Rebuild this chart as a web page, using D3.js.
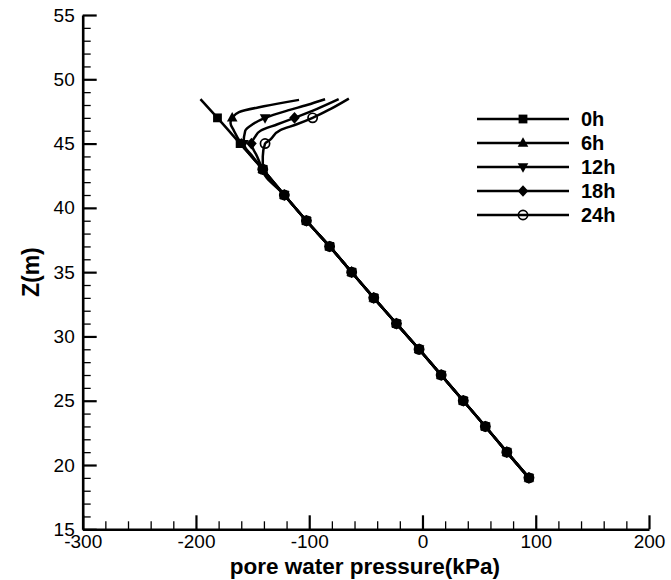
<!DOCTYPE html>
<html>
<head>
<meta charset="utf-8">
<script src="https://cdn.jsdelivr.net/npm/d3@7"></script>
<style>
  html, body { margin: 0; padding: 0; background: #fff; }
  svg { display: block; font-family: "Liberation Sans", Arial, sans-serif; }
</style>
</head>
<body>
<svg id="chart" width="671" height="580"></svg>
<script>
// Pore water pressure profiles (kPa) against elevation Z (m), each as [pressure, Z].
// Below Z = 43 m all times share the same hydrostatic profile.
const lowerProfile = [
  [94, 19], [74.5, 21], [55.5, 23], [36, 25], [16.5, 27], [-3, 29],
  [-23, 31], [-43, 33], [-62.5, 35], [-82, 37], [-102.5, 39], [-122, 41], [-141, 43]
];
const upper0h  = [[-161, 45], [-181, 47], [-196, 48.45]];
const upper6h  = [[-151, 44], [-160, 45], [-166.5, 46], [-169.5, 46.6], [-168, 47], [-162, 47.45], [-140, 47.9], [-109, 48.4]];
const upper12h = [[-150, 44], [-158, 45], [-156.5, 46], [-150, 46.5], [-139, 47], [-118, 47.6], [-102, 48.0], [-86, 48.45]];
const upper18h = [[-146, 44], [-151, 45], [-148, 45.5], [-143, 46], [-128, 46.5], [-113, 47], [-93, 47.7], [-74, 48.45]];
const upper24h = [[-141, 44], [-139, 45], [-134.5, 45.3], [-125.5, 46.05], [-111, 46.5], [-97, 47], [-81, 47.7], [-65, 48.5]];

const seriesNames = ["0h", "6h", "12h", "18h", "24h"];
const seriesUpper = [upper0h, upper6h, upper12h, upper18h, upper24h];
const seriesSymbols = ["square", "triangleUp", "triangleDown", "diamond", "circle"];

const xTicks = [-300, -200, -100, 0, 100, 200];
const yTicks = [15, 20, 25, 30, 35, 40, 45, 50, 55];

const svg = d3.select("#chart");
const x = d3.scaleLinear().domain([-300, 200]).range([82.7, 649]);
const y = d3.scaleLinear().domain([15, 55]).range([529.3, 15]);

// minor ticks
const xMinor = d3.range(-300, 200.1, 20).filter(v => !xTicks.includes(v));
const yMinor = d3.range(15, 55.1, 1).filter(v => !yTicks.includes(v));

svg.append("g")
  .attr("transform", `translate(0,${y(15)})`)
  .call(d3.axisBottom(x).tickValues(xMinor).tickSize(-8).tickSizeOuter(0).tickFormat(""))
  .call(g => g.select(".domain").remove())
  .call(g => g.selectAll("line").attr("stroke", "#000").attr("stroke-width", 1.3));

svg.append("g")
  .attr("transform", `translate(${x(-300)},0)`)
  .call(d3.axisLeft(y).tickValues(yMinor).tickSize(-8).tickSizeOuter(0).tickFormat(""))
  .call(g => g.select(".domain").remove())
  .call(g => g.selectAll("line").attr("stroke", "#000").attr("stroke-width", 1.3));

const plain = d => String(d);
const xAxis = svg.append("g")
  .attr("transform", `translate(0,${y(15)})`)
  .call(d3.axisBottom(x).tickValues(xTicks).tickSize(-14).tickSizeOuter(0).tickPadding(5).tickFormat(plain));
const yAxis = svg.append("g")
  .attr("transform", `translate(${x(-300)},0)`)
  .call(d3.axisLeft(y).tickValues(yTicks).tickSize(-14).tickSizeOuter(0).tickPadding(8).tickFormat(plain));

[xAxis, yAxis].forEach(g => {
  g.select(".domain").attr("stroke", "#000").attr("stroke-width", 2.6);
  g.selectAll(".tick line").attr("stroke", "#000").attr("stroke-width", 2.2);
  g.selectAll(".tick text")
    .attr("fill", "#000")
    .style("font-family", "'Liberation Sans', Arial, sans-serif")
    .style("font-size", "19px");
});

// axis titles
svg.append("text")
  .attr("x", (x(-300) + x(200)) / 2 - 1)
  .attr("y", 574)
  .attr("text-anchor", "middle")
  .style("font-weight", "bold")
  .style("font-size", "22.5px")
  .text("pore water pressure(kPa)");

svg.append("text")
  .attr("transform", `translate(39,${(y(15) + y(55)) / 2}) rotate(-90)`)
  .attr("text-anchor", "middle")
  .style("font-weight", "bold")
  .style("font-size", "23px")
  .text("Z(m)");

// marker drawing
function marker(g, type, cx, cy) {
  const s = 4.4;
  if (type === "square") {
    g.append("rect").attr("x", cx - s).attr("y", cy - s).attr("width", 2 * s).attr("height", 2 * s).attr("fill", "#000");
  } else if (type === "triangleUp") {
    g.append("path").attr("d", `M${cx},${cy - 5.8}L${cx + 5.3},${cy + 3.7}L${cx - 5.3},${cy + 3.7}Z`).attr("fill", "#000");
  } else if (type === "triangleDown") {
    g.append("path").attr("d", `M${cx},${cy + 5.8}L${cx + 5.3},${cy - 3.7}L${cx - 5.3},${cy - 3.7}Z`).attr("fill", "#000");
  } else if (type === "diamond") {
    g.append("path").attr("d", `M${cx},${cy - 5.8}L${cx + 5.3},${cy}L${cx},${cy + 5.8}L${cx - 5.3},${cy}Z`).attr("fill", "#000");
  } else {
    g.append("circle").attr("cx", cx).attr("cy", cy).attr("r", 4.6).attr("fill", "none").attr("stroke", "#000").attr("stroke-width", 1.7);
  }
}

const line = d3.line().x(d => x(d[0])).y(d => y(d[1])).curve(d3.curveMonotoneY);
const plot = svg.append("g");

seriesUpper.forEach((upper, i) => {
  const pts = lowerProfile.concat(upper);
  plot.append("path")
    .attr("d", line(pts))
    .attr("fill", "none")
    .attr("stroke", "#000")
    .attr("stroke-width", 2.5)
    .attr("stroke-linejoin", "round");
  const mg = plot.append("g");
  pts.filter(d => Number.isInteger(d[1]) && d[1] % 2 === 1)
    .forEach(d => marker(mg, seriesSymbols[i], x(d[0]), y(d[1])));
});

// legend
const legend = svg.append("g");
seriesNames.forEach((name, i) => {
  const ly = 119 + i * 24;
  legend.append("line").attr("x1", 477).attr("x2", 569).attr("y1", ly).attr("y2", ly)
    .attr("stroke", "#000").attr("stroke-width", 2.5);
  marker(legend, seriesSymbols[i], 523, ly);
  legend.append("text").attr("x", 581).attr("y", ly + 7)
    .style("font-weight", "bold").style("font-size", "20px").text(name);
});
</script>
</body>
</html>
